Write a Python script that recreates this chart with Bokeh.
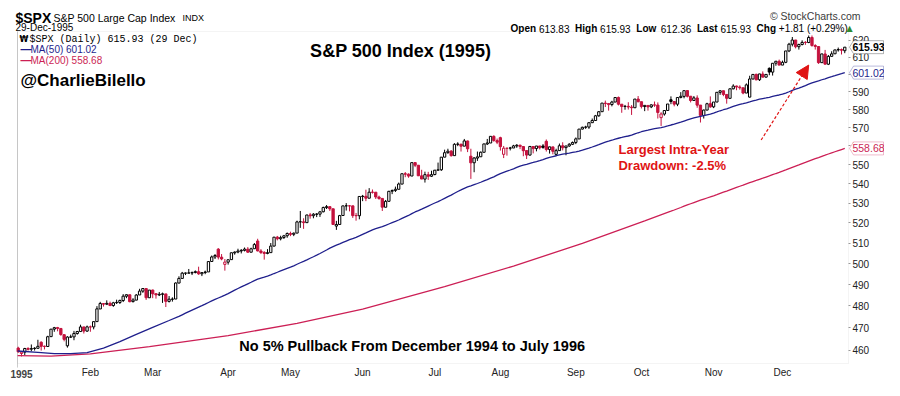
import math
import pandas as pd
from bokeh.plotting import figure
from bokeh.models import (Range1d, FixedTicker, BasicTickFormatter, Label, BoxAnnotation,
                          Arrow, NormalHead, PolyAnnotation, ColumnDataSource)
from bokeh.embed import file_html
from bokeh.resources import INLINE

# ---------------- data (trading-day index: -1 = 30 Dec 1994, 0 = 3 Jan 1995) -------------
PREV_CLOSE_1994 = 460.92
OPEN = [
    460.9,
    458.5, 459.1, 460.7, 460.4, 460.7, 460.8, 463.5, 461.7, 461.6, 466.0, 469.4, 470.1, 469.7, 466.9, 461.9, 465.8, 465.9, 467.4, 468.3, 470.4, 468.5,
    470.4, 470.4, 472.8, 478.6, 481.1, 480.8, 481.2, 480.2, 481.5, 481.6, 482.5, 484.5, 485.2, 482.0, 482.7, 485.1, 486.9, 488.1, 483.8,
    487.4, 485.7, 485.1, 485.4, 485.6, 482.1, 483.1, 483.2, 490.7, 492.9, 495.4, 495.4, 495.5, 495.7, 496.1, 495.1, 495.7, 496.0, 501.0, 503.2, 507.0, 503.1, 499.6,
    500.7, 501.9, 505.2, 505.6, 506.1, 506.4, 507.0, 505.5, 507.2, 511.0, 506.1, 505.4, 504.9, 505.3, 508.5, 512.9, 512.1, 512.7, 513.6,
    514.7, 514.3, 514.9, 520.5, 520.5, 520.1, 524.0, 523.6, 524.4, 524.4, 525.6, 527.7, 528.2, 527.1, 518.4, 519.2, 523.7, 528.6, 528.6, 528.6, 523.7, 523.6,
    533.4, 533.5, 532.5, 535.6, 535.6, 533.1, 532.4, 527.9, 530.9, 536.1, 536.5, 537.1, 539.8, 545.2, 545.0, 544.0, 551.1, 549.7, 544.1, 542.4, 544.7, 543.9,
    544.8, 547.1, 547.3, 554.0, 556.4, 557.2, 554.8, 560.9, 561.0, 559.9, 562.7, 554.5, 551.0, 553.5, 554.2, 556.6, 561.1, 561.6, 565.2, 562.9,
    564.5, 555.5, 558.8, 558.8, 558.9, 560.0, 560.4, 559.7, 557.5, 555.1, 559.7, 558.6, 560.0, 560.0, 562.5, 558.1, 559.5, 555.5, 557.5, 560.1, 559.1, 560.0, 560.9,
    561.9, 563.8, 569.2, 570.2, 570.3, 572.7, 573.9, 576.5, 578.8, 583.6, 583.4, 582.8, 584.2, 586.8, 583.0, 581.7, 581.8, 581.4, 581.0, 585.9,
    584.4, 581.7, 582.3, 581.5, 582.6, 582.5, 575.5, 577.5, 579.5, 585.5, 584.5, 583.0, 586.8, 587.4, 590.7, 587.5, 585.1, 586.5, 582.5, 576.7, 579.7, 583.3,
    581.5, 584.2, 589.7, 590.6, 588.5, 586.3, 591.7, 593.3, 592.7, 592.3, 589.3, 587.0, 597.3, 600.0, 596.9, 600.2, 598.4, 603.5, 601.3, 606.5, 607.6,
    605.4, 607.0, 613.7, 617.7, 620.2, 616.2, 617.5, 618.8, 618.7, 621.7, 616.9, 616.3, 606.8, 611.9, 605.9, 610.5, 612.0, 614.3, 614.5, 613.83,
]
HIGH = [
    461.5,
    459.6, 461.0, 461.3, 462.5, 461.3, 464.6, 463.9, 462.0, 466.4, 469.4, 470.4, 470.4, 469.7, 466.9, 466.2, 466.9, 468.6, 468.6, 471.4, 470.4, 471.0,
    471.0, 472.8, 479.9, 481.9, 481.3, 482.6, 482.0, 481.9, 482.9, 482.9, 485.5, 485.3, 485.2, 483.6, 485.5, 488.0, 488.3, 488.1, 487.4,
    487.6, 485.7, 486.5, 486.2, 485.6, 484.6, 484.0, 491.0, 493.9, 496.0, 495.7, 497.4, 496.2, 496.7, 498.5, 495.9, 496.6, 501.0, 503.9, 504.6, 507.5, 504.6, 502.2,
    501.9, 505.3, 505.9, 507.2, 507.0, 507.8, 508.0, 507.7, 510.0, 512.1, 507.0, 506.0, 507.0, 510.0, 513.0, 513.5, 513.6, 514.0, 515.2,
    515.6, 515.2, 521.1, 526.0, 522.3, 524.1, 525.0, 524.9, 524.9, 526.0, 528.2, 529.0, 528.3, 527.1, 521.0, 524.0, 528.6, 530.0, 529.0, 528.6, 525.0, 533.4,
    534.2, 536.9, 537.7, 537.0, 535.6, 533.8, 532.4, 531.6, 536.3, 537.0, 538.5, 540.6, 545.2, 546.1, 545.4, 551.1, 551.1, 549.7, 547.3, 546.3, 546.2, 546.8,
    547.1, 551.1, 554.0, 558.0, 558.5, 557.8, 561.5, 562.0, 561.0, 563.8, 562.9, 558.5, 554.0, 557.0, 557.0, 561.2, 563.8, 565.3, 565.8, 564.0,
    565.0, 560.0, 559.0, 559.5, 560.6, 561.0, 560.7, 559.8, 557.6, 559.8, 559.8, 560.0, 560.0, 561.0, 563.5, 559.6, 559.6, 558.5, 561.3, 562.0, 560.0, 561.5, 562.4,
    564.6, 569.2, 570.5, 571.0, 572.9, 575.0, 577.0, 579.1, 583.7, 585.0, 583.4, 584.9, 586.9, 587.3, 583.0, 582.6, 584.1, 582.5, 586.0, 587.6,
    584.4, 582.3, 582.3, 582.9, 584.5, 584.0, 578.5, 579.6, 583.1, 587.4, 584.5, 586.8, 589.8, 590.7, 590.7, 587.6, 587.6, 588.0, 582.5, 580.0, 583.8, 587.4,
    584.2, 589.7, 590.9, 590.6, 588.5, 591.9, 594.3, 593.5, 593.7, 592.3, 594.8, 599.2, 600.0, 600.4, 600.3, 601.7, 600.0, 604.0, 606.5, 607.7, 608.6,
    608.0, 613.7, 618.5, 622.0, 620.2, 618.0, 620.0, 619.5, 622.9, 622.9, 617.7, 616.3, 612.0, 614.3, 611.3, 613.5, 614.4, 615.7, 615.1, 615.93,
]
LOW = [
    458.8,
    457.2, 457.8, 459.8, 459.5, 459.8, 460.8, 459.8, 460.3, 461.6, 466.0, 468.2, 468.4, 466.4, 463.9, 461.1, 465.5, 464.4, 466.9, 468.3, 467.4, 468.2,
    468.2, 469.3, 472.8, 478.6, 479.7, 480.4, 479.9, 479.6, 480.9, 480.9, 481.8, 483.6, 481.7, 481.6, 482.7, 485.1, 486.1, 482.8, 483.8,
    483.6, 483.4, 484.6, 481.4, 479.5, 481.6, 482.0, 483.2, 490.6, 492.9, 494.5, 495.3, 494.5, 495.3, 494.6, 494.0, 494.9, 496.0, 501.0, 502.2, 502.0, 501.6, 496.6,
    499.5, 501.9, 504.3, 505.0, 504.9, 505.9, 505.2, 505.5, 507.2, 505.9, 504.6, 501.9, 504.5, 505.3, 508.3, 511.3, 511.3, 512.0, 512.6,
    513.4, 513.4, 514.9, 517.5, 517.0, 520.1, 522.1, 522.3, 522.9, 523.0, 525.3, 527.0, 526.0, 519.1, 516.5, 519.2, 523.7, 526.2, 525.8, 522.5, 521.1, 521.8,
    531.0, 531.0, 532.5, 534.9, 532.1, 531.7, 526.0, 527.9, 530.9, 534.6, 535.7, 537.1, 539.8, 543.4, 543.1, 544.0, 548.7, 544.0, 542.4, 540.6, 542.0, 543.5,
    544.4, 546.8, 546.7, 553.9, 555.8, 554.3, 554.8, 559.9, 557.0, 559.9, 556.7, 542.5, 546.0, 552.0, 554.2, 556.6, 560.5, 561.6, 562.3, 561.0,
    557.5, 553.5, 554.8, 557.6, 558.9, 559.0, 558.3, 554.5, 553.0, 554.9, 556.0, 557.1, 558.1, 558.5, 557.0, 555.9, 555.5, 554.5, 557.5, 557.6, 555.0, 559.5, 560.5,
    561.0, 563.8, 569.0, 569.3, 569.3, 572.7, 573.9, 576.0, 578.8, 581.4, 579.4, 581.8, 584.2, 582.3, 578.2, 579.9, 580.0, 577.0, 581.0, 584.0,
    580.6, 579.1, 579.4, 580.8, 581.5, 575.0, 570.9, 576.6, 579.5, 583.0, 581.8, 581.9, 586.3, 586.3, 586.8, 584.0, 585.1, 581.0, 572.8, 575.0, 579.6, 581.0,
    580.8, 584.2, 588.3, 587.5, 583.3, 586.3, 591.4, 590.9, 591.2, 588.6, 589.3, 586.8, 597.2, 596.6, 596.2, 598.4, 598.1, 599.5, 599.3, 605.0, 605.4,
    605.4, 606.5, 613.0, 616.4, 615.2, 614.5, 617.0, 617.3, 618.3, 616.2, 614.5, 606.1, 606.6, 605.7, 605.4, 610.4, 611.9, 613.3, 611.6, 612.36,
]
CLOSE = [
    459.27,
    459.11, 460.71, 460.34, 460.68, 460.83, 461.68, 461.66, 461.64, 465.97, 469.38, 470.05, 469.71, 466.95, 464.78, 465.82, 465.86, 467.44, 468.32, 470.39, 468.51, 470.42,
    470.40, 472.79, 478.64, 481.14, 480.81, 481.19, 480.19, 481.46, 481.65, 482.55, 484.54, 485.22, 481.97, 482.74, 485.07, 486.91, 488.11, 483.81, 487.39,
    485.65, 485.13, 485.42, 485.63, 482.12, 483.14, 483.16, 490.72, 492.89, 495.41, 495.43, 495.52, 495.67, 496.14, 495.07, 495.67, 495.95, 500.97, 503.20, 503.90, 503.12, 502.22, 500.71,
    501.85, 505.24, 505.57, 506.08, 506.42, 507.01, 505.53, 507.17, 509.23, 506.13, 505.37, 504.92, 505.29, 508.49, 512.89, 512.10, 512.66, 513.55, 514.71,
    514.26, 514.86, 520.48, 520.54, 520.12, 523.96, 523.56, 524.36, 524.37, 525.55, 527.74, 528.19, 527.07, 519.19, 519.19, 523.65, 528.59, 528.61, 528.59, 523.65, 523.58, 533.40,
    533.49, 532.51, 535.60, 535.55, 533.13, 532.35, 527.94, 530.88, 536.05, 536.47, 537.12, 539.83, 545.22, 544.98, 543.98, 551.07, 549.71, 544.13, 542.43, 544.73, 543.87, 544.75,
    547.09, 547.26, 553.99, 556.37, 557.19, 554.78, 560.89, 561.00, 559.89, 562.72, 558.46, 550.98, 553.54, 554.15, 556.63, 561.10, 561.61, 565.22, 562.93, 562.06,
    559.64, 558.80, 558.75, 558.94, 560.03, 560.39, 559.71, 557.45, 555.11, 559.74, 558.57, 559.97, 559.04, 559.21, 558.11, 559.52, 557.14, 557.46, 560.10, 559.05, 560.00, 560.92, 561.88,
    563.84, 569.17, 570.17, 570.29, 572.68, 573.91, 576.51, 578.77, 583.61, 583.35, 582.77, 584.20, 586.77, 583.00, 581.73, 581.81, 581.41, 581.04, 585.87, 584.41,
    581.72, 582.34, 581.47, 582.63, 582.49, 578.37, 577.52, 579.46, 583.10, 584.50, 583.03, 586.78, 587.44, 590.65, 587.46, 585.06, 586.54, 582.47, 576.72, 579.70, 583.25, 581.50,
    584.22, 589.72, 590.57, 588.46, 586.32, 591.71, 593.26, 592.72, 592.30, 589.29, 593.96, 597.34, 599.97, 596.85, 600.24, 598.40, 599.97, 601.32, 606.45, 607.64, 605.37,
    606.98, 613.68, 617.68, 620.18, 616.17, 617.48, 618.77, 618.72, 621.69, 616.92, 616.34, 606.81, 611.93, 605.94, 610.49, 611.95, 614.30, 614.53, 614.12, 615.93,
]
DAY_INDEX = list(range(-1, len(CLOSE) - 1))

MA50_EARLY_IDX = [-1.2, 5, 10, 15, 20, 25, 30, 35, 40, 45]
MA50_EARLY = [459.6, 459.0, 458.4, 458.4, 458.9, 460.9, 463.8, 467.0, 470.2, 473.3]
MA200_EARLY_IDX = [-1.2, 9, 21, 39, 63, 84, 104, 129, 150, 171, 190]
MA200_EARLY = [457.6, 457.3, 458.3, 461.5, 466.5, 472.0, 478.5, 489.0, 498.8, 509.8, 521.0]

MONTH_LABELS = ["1995", "Feb", "Mar", "Apr", "May", "Jun", "Jul", "Aug", "Sep", "Oct", "Nov", "Dec"]
MONTH_START = [0, 21, 40, 63, 82, 104, 126, 146, 169, 189, 211, 232]
Y_TICKS = [460, 470, 480, 490, 500, 510, 520, 530, 540, 550, 560, 570, 580, 590, 600, 610, 620]

LAST_CLOSE, MA50_LAST, MA200_LAST = 615.93, 601.02, 558.68

# ---------------- layout / styling ----------------
RED = "#c4123e"
NAVY = "#1f1f8c"
CRIMSON = "#cc1f55"
ANNOT_RED = "#e01414"
FONT = "Liberation Sans"

W, H = 884, 380
FL, FT, FR, FB = 17, 31, 848, 363          # chart box in canvas pixels
X0_PX, DX = 21.0, 3.28                     # pixel of day 0, pixels per trading day
Y_HI, Y_LO = 625.3, 454.1                  # prices at chart top / bottom
K = (FB - FT) / math.log(Y_HI / Y_LO)

X_LO = (FL - X0_PX) / DX
X_HI = (FR - X0_PX) / DX
XR0, XR1 = (0 - X0_PX) / DX, (W - X0_PX) / DX
YR1 = Y_HI * math.exp(FT / K)
YR0 = Y_LO * math.exp(-(H - FB) / K)

p = figure(width=W, height=H, output_backend="svg", toolbar_location=None,
           y_axis_type="log", y_axis_location="right",
           x_range=Range1d(XR0, XR1), y_range=Range1d(YR0, YR1),
           min_border=0, min_border_left=0, min_border_right=0,
           min_border_top=0, min_border_bottom=0,
           background_fill_color="white", border_fill_color="white")
p.xgrid.grid_line_color = None
p.ygrid.grid_line_color = None
p.outline_line_color = None

ya = p.yaxis[0]
ya.fixed_location = X_HI
ya.ticker = FixedTicker(ticks=Y_TICKS)
ya.formatter = BasicTickFormatter(use_scientific=False)
ya.axis_line_color = None
ya.major_tick_in = 0
ya.major_tick_out = 2
ya.minor_tick_line_color = None
ya.major_tick_line_color = "#999999"
ya.major_label_standoff = 2
ya.major_label_text_font = FONT
ya.major_label_text_font_size = "10px"
ya.major_label_text_color = "#222222"

xa = p.xaxis[0]
xa.fixed_location = Y_LO
xa.ticker = FixedTicker(ticks=MONTH_START)
xa.major_label_overrides = {m: (lab if i > 0 else "") for i, (m, lab) in enumerate(zip(MONTH_START, MONTH_LABELS))}
xa.axis_line_color = None
xa.major_tick_in = 0
xa.major_tick_out = 0
xa.minor_tick_line_color = None
xa.major_label_standoff = 3
xa.major_label_text_font = FONT
xa.major_label_text_font_size = "10px"
xa.major_label_text_color = "#222222"

# chart box: dotted border, solid left edge
p.add_layout(BoxAnnotation(left=X_LO, right=X_HI, bottom=Y_LO, top=Y_HI, fill_alpha=0,
                           line_color="#b4b4b4", line_dash="1 1", line_width=1, level="underlay"))
p.add_layout(BoxAnnotation(left=X_LO, right=X_LO, bottom=Y_LO * math.exp(-4 / K), top=Y_HI, fill_alpha=0,
                           line_color="#9a9a9a", line_width=1, level="underlay"))

# ---------------- candles ----------------
prev = [PREV_CLOSE_1994] + CLOSE[:-1]
colors = ["black" if c >= pc else RED for c, pc in zip(CLOSE, prev)]
fills = ["white" if c > o else col for c, o, col in zip(CLOSE, OPEN, colors)]
src = ColumnDataSource(dict(
    x=DAY_INDEX, open=OPEN, high=HIGH, low=LOW, close=CLOSE,
    top=[max(o, c) for o, c in zip(OPEN, CLOSE)],
    bottom=[min(o, c) for o, c in zip(OPEN, CLOSE)],
    color=colors, fill=fills))
p.segment(x0="x", y0="low", x1="x", y1="high", line_color="color", line_width=1, source=src)
p.vbar(x="x", width=0.7, top="top", bottom="bottom", fill_color="fill",
       line_color="color", line_width=1, source=src)

# ---------------- moving averages ----------------
cs = pd.Series(CLOSE)
ma50 = cs.rolling(50).mean()
ma200 = cs.rolling(200).mean()
m50x = MA50_EARLY_IDX + [DAY_INDEX[i] for i in range(len(CLOSE)) if not math.isnan(ma50[i])]
m50y = MA50_EARLY + [float(ma50[i]) for i in range(len(CLOSE)) if not math.isnan(ma50[i])]
m200x = MA200_EARLY_IDX + [DAY_INDEX[i] for i in range(len(CLOSE)) if not math.isnan(ma200[i])]
m200y = MA200_EARLY + [float(ma200[i]) for i in range(len(CLOSE)) if not math.isnan(ma200[i])]
p.line(m200x, m200y, line_color=CRIMSON, line_width=1.3)
p.line(m50x, m50y, line_color=NAVY, line_width=1.3)

# ---------------- helpers ----------------
def sy(py):
    return H - py

def txt(text, px, py, size, color="#000000", bold=False, font=FONT, align="left", baseline="alphabetic"):
    p.add_layout(Label(x=px, y=sy(py), x_units="screen", y_units="screen", text=text,
                       text_font=font, text_font_size=size, text_color=color,
                       text_font_style="bold" if bold else "normal",
                       text_align=align, text_baseline=baseline))

def dtxt(text, x, y, size, color="#000000", bold=True, align="left"):
    p.add_layout(Label(x=x, y=y, text=text, text_font=FONT, text_font_size=size,
                       text_color=color, text_font_style="bold" if bold else "normal",
                       text_align=align, text_baseline="middle"))

# ---------------- header ----------------
txt("$SPX", 15, 17, "14px", bold=True)
txt("S&P 500 Large Cap Index", 53, 17, "10.5px")
txt("INDX", 182, 17, "9px")
txt("29-Dec-1995", 15, 27, "10px")
txt("\u00a9 StockCharts.com", 860, 15, "10.5px", color="#3c3c3c", align="right")

hx = 510
segs = [("Open", True, 0), ("613.83", False, 28.4), ("High", True, 64.6), ("615.93", False, 89.6),
        ("Low", True, 125.8), ("612.36", False, 150.3), ("Last", True, 186.5), ("615.93", False, 209.9),
        ("Chg", True, 246.1), ("+1.81 (+0.29%)", False, 268.3)]
for t, b, off in segs:
    txt(t, hx + off, 28, "10px", bold=b)
txt("\u25b2", hx + 336, 28, "8px", color="#2e8b2e", font="DejaVu Sans")

# ---------------- legend inside plot ----------------
txt("\u20a9", 19, 38.5, "8px", bold=True, font="DejaVu Sans")
txt("$SPX (Daily) 615.93 (29 Dec)", 29, 38.5, "10px", font="Liberation Mono")
txt("\u2014", 20, 48, "11px", color=NAVY, bold=True)
txt("MA(50) 601.02", 30, 49, "10px", color=NAVY)
txt("\u2014", 20, 59, "11px", color=CRIMSON, bold=True)
txt("MA(200) 558.68", 30, 60, "10px", color=CRIMSON)
txt("@CharlieBilello", 20, 80, "17px", bold=True)

# ---------------- titles and annotation ----------------
dtxt("S&P 500 Index (1995)", 115.6, 613.8, "18px", align="center")
dtxt("No 5% Pullback From December 1994 to July 1996", 119.1, 461.7, "14.5px", align="center")
dtxt("Largest Intra-Year", 182.0, 558.1, "13px", color=ANNOT_RED)
dtxt("Drawdown: -2.5%", 182.0, 549.4, "13px", color=ANNOT_RED)
p.add_layout(Arrow(end=NormalHead(size=13, fill_color=ANNOT_RED, line_color=ANNOT_RED),
                   x_start=225.5, y_start=563.2, x_end=240.0, y_end=605.4,
                   line_color=ANNOT_RED, line_width=1.2, line_dash="3 2"))

# bold "1995" month label under the first trading day
p.add_layout(Label(x=0, y=sy(373.5), y_units="screen", text=MONTH_LABELS[0], text_font=FONT,
                   text_font_size="10px", text_font_style="bold", text_align="center",
                   text_baseline="alphabetic"))

# ---------------- price flags on the right axis ----------------
def flag(val, color, bold):
    hh = 6.5 / K
    tip, left, right = FR + 1, FR + 5, 883
    p.add_layout(PolyAnnotation(xs=[tip, left, right, right, left],
                                ys=[val, val * math.exp(hh), val * math.exp(hh), val * math.exp(-hh), val * math.exp(-hh)],
                                xs_units="screen", ys_units="data",
                                fill_color="white", fill_alpha=1.0, line_color=color, line_width=1))
    p.add_layout(Label(x=(left + right) / 2, y=val, x_units="screen", text=f"{val:.2f}",
                       text_font=FONT, text_font_size="10.5px", text_color=color,
                       text_font_style="bold" if bold else "normal",
                       text_align="center", text_baseline="middle"))

flag(MA200_LAST, CRIMSON, False)
flag(MA50_LAST, NAVY, False)
flag(LAST_CLOSE, "black", True)

open("out.html", "w").write(file_html(p, INLINE))
